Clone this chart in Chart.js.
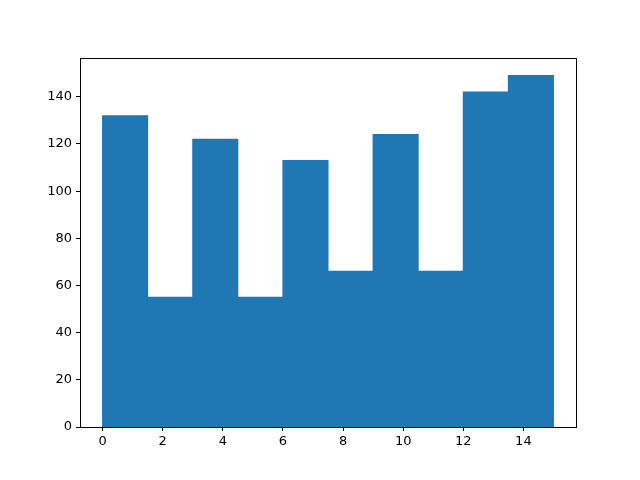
<!DOCTYPE html>
<html lang="en">
<head>
  <meta charset="UTF-8">
  <title>Histogram</title>
  <script src="https://cdn.jsdelivr.net/npm/chart.js"></script>
  <style>
    html, body { margin: 0; padding: 0; background: #fff; }
    canvas { display: block; }
  </style>
</head>
<body>
  <canvas id="hist" width="640" height="480"></canvas>
  <script>
    // histogram bins and counts
    const binEdges = [0, 1.5, 3, 4.5, 6, 7.5, 9, 10.5, 12, 13.5, 15];
    const counts = [132, 55, 122, 55, 113, 66, 124, 66, 142, 149];
    const xTicks = [0, 2, 4, 6, 8, 10, 12, 14];
    const yTicks = [0, 20, 40, 60, 80, 100, 120, 140];

    const bars = counts.map((c, i) => ({ x: (binEdges[i] + binEdges[i + 1]) / 2, y: c }));

    // black frame around the plot area, like matplotlib spines
    const frame = {
      id: 'frame',
      afterDraw(chart) {
        const a = chart.chartArea, ctx = chart.ctx;
        ctx.save();
        ctx.strokeStyle = '#000';
        ctx.lineWidth = 1;
        ctx.strokeRect(Math.round(a.left) + 0.5, Math.round(a.top) + 0.5,
          Math.round(a.right - a.left), Math.round(a.bottom - a.top));
        ctx.restore();
      }
    };

    const tickFont = { family: 'DejaVu Sans', size: 13 };

    new Chart(document.getElementById('hist'), {
      type: 'bar',
      data: {
        datasets: [{
          data: bars,
          backgroundColor: '#1f77b4',
          borderWidth: 0,
          inflateAmount: 0.5,
          barPercentage: 1,
          categoryPercentage: 1
        }]
      },
      options: {
        responsive: false,
        animation: false,
        layout: { padding: { top: 58, right: 64, left: 0, bottom: 0 } },
        plugins: { legend: { display: false }, tooltip: { enabled: false } },
        scales: {
          x: {
            type: 'linear',
            offset: false,
            min: -0.75,
            max: 15.75,
            afterBuildTicks(scale) { scale.ticks = xTicks.map(v => ({ value: v })); },
            afterFit(scale) { scale.height = 53; },
            grid: { offset: false, drawOnChartArea: false, tickLength: 4, tickColor: '#000' },
            border: { color: '#000' },
            ticks: { color: '#000', font: tickFont, padding: 3, maxRotation: 0 }
          },
          y: {
            min: 0,
            max: 156.45,
            afterBuildTicks(scale) { scale.ticks = yTicks.map(v => ({ value: v })); },
            afterFit(scale) { scale.width = 80; },
            grid: { drawOnChartArea: false, tickLength: 4, tickColor: '#000' },
            border: { color: '#000' },
            ticks: { color: '#000', font: tickFont, padding: 4 }
          }
        }
      },
      plugins: [frame]
    });
  </script>
</body>
</html>
